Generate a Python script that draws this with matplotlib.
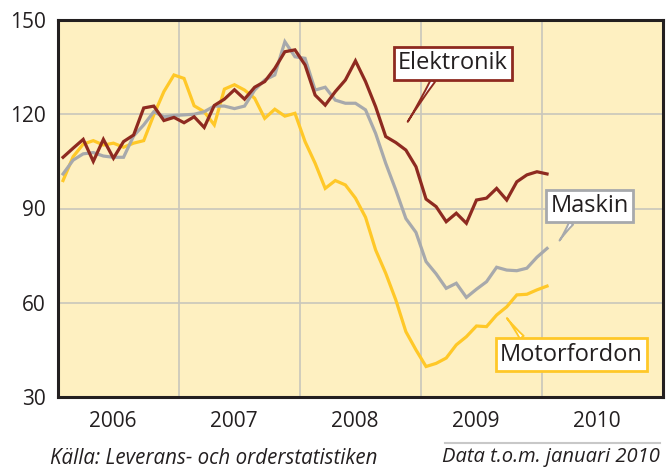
import numpy as np
import matplotlib
matplotlib.use("Agg")
import matplotlib.pyplot as plt
from matplotlib.lines import Line2D

plt.rcParams['font.family'] = ['Open Sans', 'DejaVu Sans']

# Monthly index, Jan 2006 .. Jan 2010 (49 months)
start_year = 2006
n_months = 49

elektronik = [106.3, 109.2, 112.0, 105.0, 112.0, 106.0, 111.3, 113.4, 122.0, 122.6,
              118.0, 119.0, 117.3, 119.2, 115.8, 122.8, 124.8, 127.8, 124.8, 128.6,
              130.4, 134.6, 139.9, 140.5, 135.7, 126.1, 122.9, 127.2, 130.9, 137.0,
              130.4, 122.4, 112.9, 111.0, 108.6, 103.3, 93.0, 90.6, 85.8, 88.5,
              85.3, 92.7, 93.3, 96.4, 92.7, 98.5, 100.7, 101.7, 101.0]

maskin = [101.0, 105.4, 107.4, 107.8, 106.7, 106.3, 106.3, 113.1, 116.6, 120.8,
          119.2, 119.6, 119.8, 120.0, 120.8, 122.6, 122.6, 121.8, 122.6, 127.7,
          130.9, 132.5, 143.1, 138.3, 137.8, 127.7, 128.6, 124.5, 123.5, 123.5,
          121.4, 113.9, 104.4, 95.9, 86.8, 82.4, 73.1, 69.2, 64.6, 66.2,
          61.7, 64.3, 66.7, 71.3, 70.4, 70.2, 71.0, 74.5, 77.3]

motorfordon = [98.9, 106.5, 110.5, 111.6, 110.2, 110.8, 109.5, 110.8, 111.6, 119.8,
               127.2, 132.5, 131.4, 122.7, 120.8, 116.6, 128.0, 129.4, 127.7, 125.1,
               118.7, 121.6, 119.4, 120.3, 111.3, 104.4, 96.4, 98.9, 97.5, 93.3,
               87.2, 76.8, 69.4, 60.9, 50.8, 45.0, 39.7, 40.7, 42.4, 46.6,
               49.2, 52.6, 52.4, 56.1, 58.7, 62.5, 62.7, 64.1, 65.3]

years = ['2006', '2007', '2008', '2009', '2010']
y_ticks = [30, 60, 90, 120, 150]

c_el = '#8E2A20'
c_ma = '#A7A9AC'
c_mo = '#FFC828'
bg = '#FEF0C1'
grid_c = '#C9C6BC'
dark = '#231F20'

x = start_year + (np.arange(n_months) + 0.5) / 12.0

fig = plt.figure(figsize=(6.7, 4.7), dpi=100)
W, H = 670, 470
ax = fig.add_axes([58 / W, 1 - 397 / H, (663 - 58) / W, (397 - 20) / H])
ax.set_facecolor(bg)

ax.plot(x, motorfordon, color=c_mo, lw=2.3, zorder=3, solid_joinstyle='miter')
ax.plot(x, maskin, color=c_ma, lw=2.3, zorder=4, solid_joinstyle='miter')
ax.plot(x, elektronik, color=c_el, lw=2.3, zorder=5, solid_joinstyle='miter')

ax.set_xlim(2006, 2011)
ax.set_ylim(30, 150)
ax.set_yticks(y_ticks)
ax.set_yticklabels([str(v) for v in y_ticks])
yr = np.array([int(s) for s in years])
ax.set_xticks(yr + 0.45)
ax.set_xticklabels(years)
ax.set_xticks(yr[1:], minor=True)
ax.set_axisbelow(True)
ax.grid(False)
ax.grid(True, axis='x', which='minor', color=grid_c, lw=1.2, zorder=1)
ax.grid(True, axis='y', which='major', color=grid_c, lw=1.2, zorder=1)
ax.tick_params(which='both', length=0)
ax.tick_params(axis='y', labelsize=15, pad=9, colors=dark)
ax.tick_params(axis='x', labelsize=15, pad=10, colors=dark)
for s in ax.spines.values():
    s.set_color(dark)
    s.set_linewidth(2.2)
    s.set_zorder(6)

def callout(text, xy, xytext, ec, relpos):
    ax.annotate(text, xy=xy, xytext=xytext, textcoords='data',
                ha='center', va='center', fontsize=17, color=dark, zorder=10,
                bbox=dict(boxstyle='square,pad=0.18', fc='white', ec=ec, lw=2.0),
                arrowprops=dict(arrowstyle='wedge,tail_width=0.2,shrink_factor=0.3',
                                fc='white', ec=ec, lw=1.4, relpos=relpos,
                                shrinkA=0, shrinkB=0))

callout('Elektronik', (2008.89, 117.6), (2009.262, 136.2), c_el, (0.35, 0))
callout('Maskin', (2010.145, 79.8), (2010.393, 90.8), c_ma, (0.31, 0))
callout('Motorfordon', (2009.71, 55.1), (2010.244, 43.5), c_mo, (0.18, 1))

fig.text(50 / W, 1 - 458 / H, 'Källa: Leverans- och orderstatistiken', fontsize=14.8,
         style='italic', color=dark, ha='left', va='center')
fig.text(660 / W, 1 - 457 / H, 'Data t.o.m. januari 2010', fontsize=14.5,
         style='italic', color=dark, ha='right', va='center')
fig.add_artist(Line2D([445 / W, 660 / W], [1 - 442.7 / H] * 2, color='#C8C8C8', lw=1.5))

fig.savefig('out.png', dpi=100, facecolor='white')
